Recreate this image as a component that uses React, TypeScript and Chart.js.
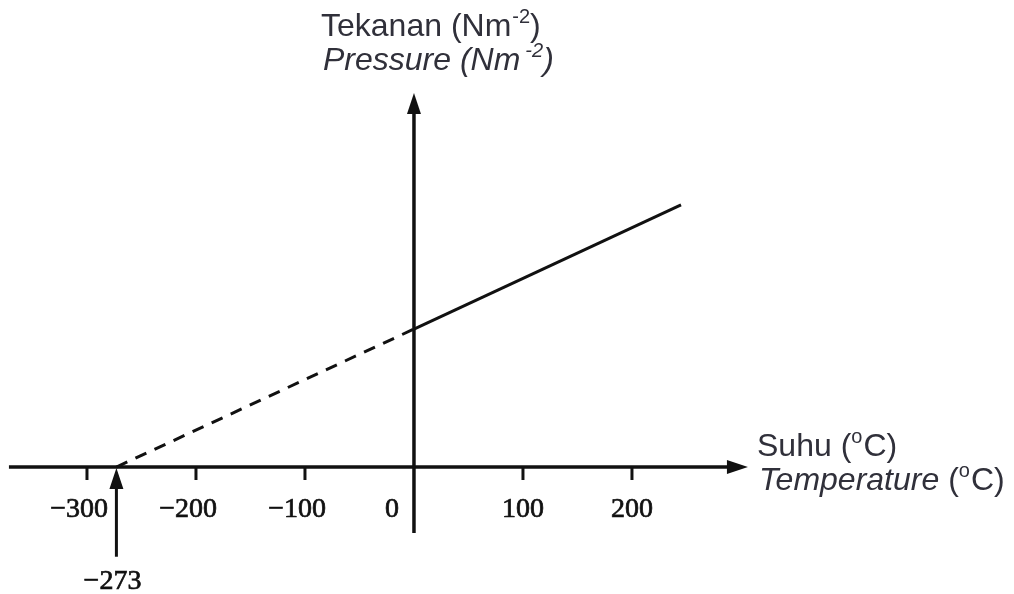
import React, { useEffect, useRef } from "react";
import { Chart, registerables } from "chart.js";

Chart.register(...registerables);

// ---- data ----
const extrapolatedTemps = [-273, 0];
const extrapolatedPressures = [0, 100];
const measuredTemps = [0, 245];
const measuredPressures = [100, 190];
const xTickValues = [-300, -200, -100, 0, 100, 200];
const xTickLabels = ["\u2212300", "\u2212200", "\u2212100", "0", "100", "200"];
const absoluteZero = -273;
const absoluteZeroLabel = "\u2212273";

// ---- view ----
const X_MIN = -379.8;
const X_MAX = 550.5;
const Y_MIN = -92.0;
const Y_MAX = 338.4;
const X_AXIS_FROM = -371.6;
const X_AXIS_TO = 306.4;
const Y_AXIS_FROM = -47.8;
const Y_AXIS_TO = 271;
const ARROW_BASE_Y = -65;

type Part = { t: string; font: string; dy?: number; gap?: number };

function drawRich(ctx: CanvasRenderingContext2D, x: number, y: number, parts: Part[]) {
  let cx = x;
  for (const p of parts) {
    ctx.font = p.font;
    cx += p.gap || 0;
    ctx.fillText(p.t, cx, y + (p.dy || 0));
    cx += ctx.measureText(p.t).width;
  }
}

function serifText(ctx: CanvasRenderingContext2D, t: string, x: number, y: number) {
  ctx.fillText(t, x, y);
  ctx.strokeText(t, x, y);
}

const axesPlugin = {
  id: "physAxes",
  beforeDatasetsDraw(chart: any) {
    const ctx: CanvasRenderingContext2D = chart.ctx;
    const xs = chart.scales.x;
    const ys = chart.scales.y;
    const x0 = xs.getPixelForValue(0);
    const y0 = ys.getPixelForValue(0);
    ctx.save();
    ctx.strokeStyle = "#111";
    ctx.fillStyle = "#111";
    ctx.lineWidth = 3.5;
    ctx.lineCap = "butt";
    // x axis
    const xl = xs.getPixelForValue(X_AXIS_FROM);
    const xr = xs.getPixelForValue(X_AXIS_TO);
    ctx.beginPath();
    ctx.moveTo(xl, y0);
    ctx.lineTo(xr - 12, y0);
    ctx.stroke();
    ctx.beginPath();
    ctx.moveTo(xr, y0);
    ctx.lineTo(xr - 21, y0 - 7);
    ctx.lineTo(xr - 21, y0 + 7);
    ctx.closePath();
    ctx.fill();
    // y axis
    const yb = ys.getPixelForValue(Y_AXIS_FROM);
    const yt = ys.getPixelForValue(Y_AXIS_TO);
    ctx.beginPath();
    ctx.moveTo(x0, yb);
    ctx.lineTo(x0, yt + 12);
    ctx.stroke();
    ctx.beginPath();
    ctx.moveTo(x0, yt);
    ctx.lineTo(x0 - 7, yt + 21);
    ctx.lineTo(x0 + 7, yt + 21);
    ctx.closePath();
    ctx.fill();
    // ticks
    ctx.lineWidth = 3;
    xTickValues.forEach((v) => {
      if (v === 0) return;
      const px = xs.getPixelForValue(v);
      ctx.beginPath();
      ctx.moveTo(px, y0);
      ctx.lineTo(px, y0 + 13);
      ctx.stroke();
    });
    // absolute zero arrow
    const ax = xs.getPixelForValue(absoluteZero);
    const ab = ys.getPixelForValue(ARROW_BASE_Y);
    ctx.lineWidth = 3;
    ctx.beginPath();
    ctx.moveTo(ax, ab);
    ctx.lineTo(ax, y0 + 14);
    ctx.stroke();
    ctx.beginPath();
    ctx.moveTo(ax, y0 + 1);
    ctx.lineTo(ax - 7, y0 + 22);
    ctx.lineTo(ax + 7, y0 + 22);
    ctx.closePath();
    ctx.fill();
    ctx.restore();
  },
  afterDatasetsDraw(chart: any) {
    const ctx: CanvasRenderingContext2D = chart.ctx;
    const xs = chart.scales.x;
    const ys = chart.scales.y;
    const x0 = xs.getPixelForValue(0);
    const y0 = ys.getPixelForValue(0);
    ctx.save();
    ctx.fillStyle = "#111";
    ctx.strokeStyle = "#111";
    ctx.lineWidth = 0.7;
    ctx.textBaseline = "alphabetic";
    ctx.textAlign = "left";
    const serif = "28px 'Liberation Serif', 'DejaVu Serif', serif";
    ctx.font = serif;
    xTickValues.forEach((v, i) => {
      const lab = xTickLabels[i];
      if (v === 0) {
        const w = ctx.measureText(lab).width;
        serifText(ctx, lab, x0 - 22 - w / 2, y0 + 50);
        return;
      }
      const px = xs.getPixelForValue(v);
      const neg = lab.startsWith("\u2212");
      const digits = neg ? lab.slice(1) : lab;
      const dw = ctx.measureText(digits).width;
      const mw = neg ? ctx.measureText("\u2212").width : 0;
      serifText(ctx, lab, px - dw / 2 - mw, y0 + 50);
    });
    {
      const px = xs.getPixelForValue(absoluteZero);
      const digits = absoluteZeroLabel.slice(1);
      const dw = ctx.measureText(digits).width;
      const mw = ctx.measureText("\u2212").width;
      serifText(ctx, absoluteZeroLabel, px + 4 - dw / 2 - mw, y0 + 122);
    }
    // axis titles
    ctx.fillStyle = "#30303a";
    const sans = "32px 'Liberation Sans', Arial, sans-serif";
    const sansI = "italic 32px 'Liberation Sans', Arial, sans-serif";
    const supN = "20px 'Liberation Sans', Arial, sans-serif";
    const supI = "italic 20px 'Liberation Sans', Arial, sans-serif";
    drawRich(ctx, 321, 36, [
      { t: "Tekanan (Nm", font: sans },
      { t: "-2", font: supN, dy: -13, gap: 1 },
      { t: ")", font: sans },
    ]);
    drawRich(ctx, 323, 70, [
      { t: "Pressure (Nm", font: sansI },
      { t: "-2", font: supI, dy: -13, gap: 5 },
      { t: ")", font: sansI },
    ]);
    drawRich(ctx, 757, 456, [
      { t: "Suhu (", font: sans },
      { t: "o", font: supN, dy: -13 },
      { t: "C)", font: sans, gap: 1 },
    ]);
    drawRich(ctx, 759, 490, [
      { t: "Temperature", font: sansI },
      { t: " (", font: sans },
      { t: "o", font: supN, dy: -13 },
      { t: "C)", font: sans, gap: 1 },
    ]);
    ctx.restore();
  },
};

export default function App() {
  const ref = useRef<HTMLCanvasElement | null>(null);
  useEffect(() => {
    if (!ref.current) return;
    const chart = new Chart(ref.current, {
      type: "line",
      data: {
        datasets: [
          {
            label: "extrapolated",
            data: extrapolatedTemps.map((t, i) => ({ x: t, y: extrapolatedPressures[i] })),
            borderColor: "#111",
            borderWidth: 3,
            borderDash: [12, 9],
            pointRadius: 0,
            fill: false,
          },
          {
            label: "measured",
            data: measuredTemps.map((t, i) => ({ x: t, y: measuredPressures[i] })),
            borderColor: "#111",
            borderWidth: 3,
            pointRadius: 0,
            fill: false,
          },
        ],
      },
      options: {
        animation: false,
        responsive: false,
        devicePixelRatio: 1,
        layout: { padding: 0 },
        plugins: { legend: { display: false }, tooltip: { enabled: false }, title: { display: false } },
        scales: {
          x: { type: "linear", min: X_MIN, max: X_MAX, display: false },
          y: { type: "linear", min: Y_MIN, max: Y_MAX, display: false },
        },
      },
      plugins: [axesPlugin],
    });
    return () => chart.destroy();
  }, []);
  return (
    <div style={{ position: "absolute", left: 0, top: 0, width: 1014, height: 594, background: "#fff" }}>
      <canvas ref={ref} width={1014} height={594} style={{ display: "block" }} />
    </div>
  );
}
